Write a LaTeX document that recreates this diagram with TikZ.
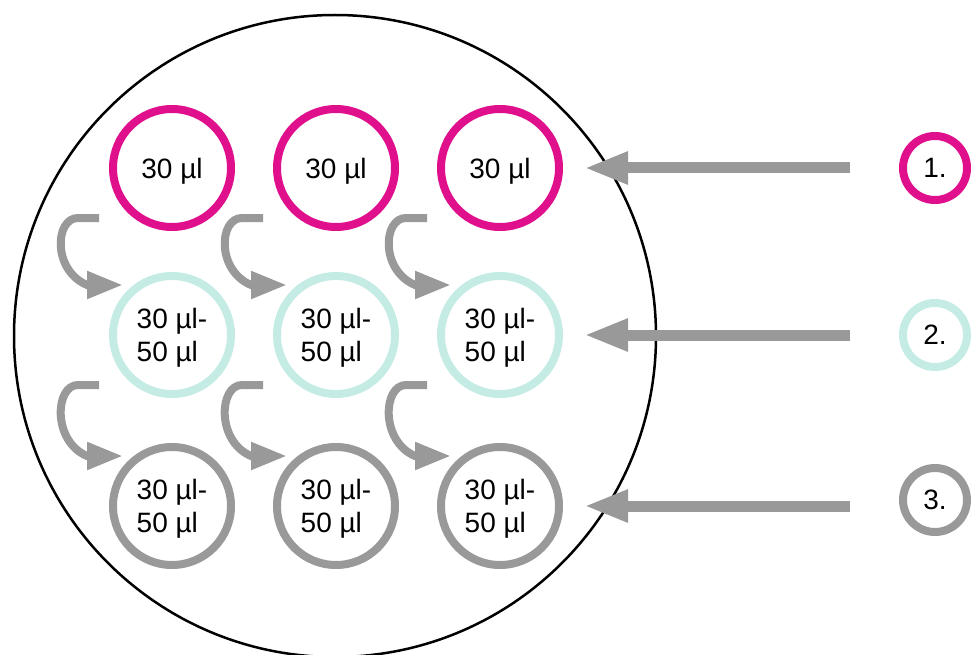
\documentclass[tikz,border=0pt]{standalone}
\usepackage{fontspec}
\setmainfont{Liberation Sans}
\usetikzlibrary{arrows.meta}
\definecolor{mag}{RGB}{224,16,140}
\definecolor{teal2}{RGB}{197,236,228}
\definecolor{gr}{RGB}{153,153,153}
\tikzset{
  well/.style={circle, line width=8pt, minimum size=118pt, inner sep=0pt, outer sep=0pt, align=left,
    text depth=0pt, font=\fontsize{28}{33}\selectfont},
  lab/.style={circle, line width=8pt, minimum size=64pt, inner sep=0pt, outer sep=0pt,
    font=\fontsize{28}{33}\selectfont},
  harrow/.style={draw=gr, line width=11pt, -{Triangle[length=44pt,width=30pt]}},
  carrow/.style={draw=gr, line width=8pt, -{Triangle[length=36pt,width=26pt]}},
}
\begin{document}
\begin{tikzpicture}[x=1pt,y=1pt]
\useasboundingbox (0,0) rectangle (976,-655);
\draw[line width=2.5pt] (335,-336) circle (321);
% wells
\foreach \c/\x in {1/172,2/336,3/500}{
  \node[well, draw=mag] (c1\c) at (\x,-168) {30 µl};
  \node[well, draw=teal2] (c2\c) at (\x,-335) {30 µl-\\50 µl};
  \node[well, draw=gr] (c3\c) at (\x,-506) {30 µl-\\50 µl};
}
% labels
\node[lab, draw=mag] (r1) at (935,-168) {1.};
\node[lab, draw=teal2] (r2) at (935,-335) {2.};
\node[lab, draw=gr] (r3) at (935,-500) {3.};
% horizontal arrows
\foreach \i in {1,2,3}{
  \draw[harrow] ([xshift=-53pt]r\i.west |- c\i3.east) -- ([xshift=25pt]c\i3.east);
}
% curved arrows
\foreach \c in {1,2,3}{
  \foreach \r/\n in {1/2,2/3}{
    \draw[carrow] ([shift={(-73,-50)}]c\r\c.center) -- ([shift={(-94,-50)}]c\r\c.center)
      .. controls ([shift={(-117,-50)}]c\r\c.center) and ([shift={(-120,65)}]c\n\c.center)
      .. ([shift={(-85,50)}]c\n\c.center) -- ([shift={(-49,50)}]c\n\c.center);
  }
}
\end{tikzpicture}
\end{document}
